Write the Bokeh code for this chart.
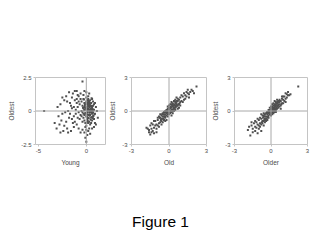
from bokeh.plotting import figure
from bokeh.layouts import row, column
from bokeh.models import FixedTicker, Span, Label
from bokeh.embed import file_html
from bokeh.resources import INLINE

# ---- data ----
young = [0.1,0.3,-0.2,0.5,0.2,-0.4,0.6,0.0,-0.1,0.4,
         0.7,-0.3,0.2,0.8,-0.5,0.1,0.5,-0.2,0.3,0.9,
         -0.6,0.0,0.4,-0.1,0.6,0.2,-0.3,0.7,-0.7,0.1,
         0.5,-0.4,0.3,0.0,0.8,-0.2,0.6,0.2,-0.1,0.4,
         1.0,-0.8,0.3,0.0,0.5,-0.5,0.7,0.1,-0.3,0.9,
         0.2,-0.6,0.4,0.0,-0.9,1.1,0.6,-0.2,0.3,0.1,
         0.8,-0.4,0.2,0.5,-0.7,0.0,0.4,-0.1,0.6,0.3,
         1.2,0.9,-0.2,0.1,0.7,-0.5,0.2,0.0,0.5,-0.3,
         0.15,0.35,-0.15,0.45,0.25,0.05,0.55,0.65,0.35,-0.05,
         0.75,0.15,0.45,-0.25,0.25,0.05,0.55,0.35,0.85,0.15,
         -0.35,0.65,0.25,0.45,0.05,0.35,-0.1,0.55,0.15,0.75,
         0.25,0.4,0.0,0.6,0.3,0.1,0.5,-0.2,0.2,0.7,
         -1.2,-1.5,-1.8,-2.1,-1.0,-2.5,-1.4,-1.7,-2.8,-1.1,
         -2.0,-3.0,-1.3,-2.3,-1.6,-0.9,-2.6,-1.9,-1.2,-3.3,
         -1.5,-2.2,-1.0,-2.7,-1.3,-1.8,-2.4,-1.1,-2.9,-1.6,
         -0.9,-2.0,-1.4,-3.1,-1.7,-2.5,-1.2,-0.8,-2.1,-1.9,
         -1.0,-2.3,-1.5,-0.8,-2.7,-1.3,
         0.0,-0.2,0.1,0.3,-0.1,0.0,0.2,-0.4,0.4,-0.1,0.6,0.8,1.0,-0.6,
         -0.4,-0.2,-0.6,0.0,-1.0,-0.3,0.3,-0.8,
         -4.4]
oldest_vs_young = [0.2,0.5,0.1,-0.1,-0.3,0.4,0.3,0.7,-0.2,0.0,
         -0.4,-0.5,0.9,0.1,0.0,-0.6,0.6,0.6,-0.8,-0.2,
         -0.3,0.3,0.8,-0.9,-0.7,0.4,0.9,0.7,0.5,-0.1,
         0.2,-0.1,0.1,-0.4,-0.6,-0.7,0.0,-0.5,0.5,-0.3,
         0.3,-0.1,0.7,1.0,-0.5,0.7,0.4,0.8,0.2,-0.9,
         1.1,0.9,-1.0,-1.1,0.3,0.0,0.9,0.3,-0.1,0.0,
         0.5,-0.8,0.6,-0.9,-0.6,0.1,0.4,0.2,-0.2,0.3,
         -0.5,0.6,-0.3,0.5,-0.1,-0.4,-0.9,0.6,0.4,-0.2,
         0.15,-0.25,0.45,0.05,0.75,-0.45,0.35,-0.15,0.55,0.25,
         -0.35,0.65,-0.65,0.85,0.15,-0.85,-0.05,0.45,-0.25,0.05,
         0.25,0.15,-0.55,0.35,0.55,-0.35,-0.15,0.95,-0.75,0.05,
         0.45,-0.05,0.25,-0.45,0.65,-0.25,0.15,0.05,0.35,-0.55,
         0.8,0.2,-0.5,1.1,-1.0,-0.2,1.3,0.6,-1.0,0.1,
         -1.3,0.3,-0.4,0.8,-1.5,1.2,-0.7,0.0,-0.8,-0.9,
         1.0,-0.1,0.6,0.5,-1.2,1.4,-1.5,-0.2,-0.4,0.4,
         -0.5,0.7,-0.9,-1.3,-0.2,1.0,1.5,-1.3,-0.8,-1.6,
         0.9,-1.1,-0.6,0.7,-1.6,0.3,
         -1.4,-1.6,-1.8,-1.3,-2.0,-2.3,-1.5,-1.4,-1.7,-1.2,-1.3,-1.2,-1.0,-1.6,
         2.2,1.5,1.3,1.4,1.5,1.2,1.3,1.1,
         0.0]

old = [0.0,0.2,-0.2,0.4,-0.4,0.1,-0.1,0.3,0.5,-0.3,
       0.6,-0.5,0.2,-0.2,0.7,-0.6,0.0,0.4,-0.1,0.3,
       0.8,-0.7,0.1,-0.4,0.5,-0.3,0.9,-0.8,0.2,0.6,
       -0.5,1.0,-0.9,0.3,0.0,-0.2,0.7,-0.6,1.1,-1.0,
       0.4,-0.1,0.8,-0.7,1.2,-1.1,0.1,0.5,-0.4,0.9,
       1.3,-1.2,0.2,-0.3,0.6,-0.8,1.4,-1.3,0.0,0.3,
       1.5,-1.4,0.7,-0.5,1.0,-0.9,0.4,-0.2,1.6,-1.5,
       0.8,-0.6,1.1,-1.0,0.5,-0.1,1.7,-1.6,0.2,-0.4,
       1.2,-1.1,0.9,-0.7,1.8,-1.3,0.6,-0.3,1.3,-1.2,
       0.1,-0.8,1.9,-1.7,0.7,-0.5,1.4,-1.4,0.3,-0.9,
       -0.05,0.15,0.35,-0.35,0.55,-0.55,0.25,0.05,-0.25,0.45,
       0.65,-0.15,0.85,-0.65,0.15,0.35,-0.45,0.75,0.05,-0.75,
       0.45,0.25,-0.05,0.55,-0.3,0.1,0.3,-0.6,0.6,-0.1,
       -1.2,-1.5,-1.8,-1.6,-1.0,-1.4,
       2.2,1.6,2.0,1.5,0.0,-0.2,0.4,0.2,-0.1,0.5]
oldest_vs_old = [0.1,0.3,-0.1,0.5,-0.3,-0.2,0.2,0.1,0.8,-0.6,
       0.4,-0.5,0.6,-0.4,0.9,-0.9,-0.3,0.2,0.4,0.7,
       1.0,-0.6,0.3,-0.8,0.3,0.0,1.2,-1.1,-0.1,0.9,
       -0.2,0.9,-0.8,0.4,0.5,-0.8,0.5,-0.4,1.3,-1.2,
       0.9,-0.5,0.6,-1.0,1.0,-0.9,0.0,1.0,-0.1,0.8,
       1.4,-1.5,0.1,-0.3,0.6,-0.5,1.3,-1.2,-0.1,-0.2,
       1.6,-1.6,1.1,-1.0,1.4,-1.3,0.0,0.1,1.5,-1.3,
       0.3,-1.2,0.8,-1.6,0.5,-0.1,1.7,-1.9,0.8,-0.5,
       1.6,-1.3,0.5,-0.3,1.9,-1.8,1.2,-0.9,1.1,-0.9,
       0.6,-1.4,1.8,-1.6,0.2,-0.7,1.7,-1.1,0.6,-0.6,
       -0.2,0.4,0.2,-0.5,0.4,-0.3,0.5,-0.1,-0.1,0.6,
       0.5,0.1,0.7,-0.8,-0.1,0.5,-0.7,0.6,0.2,-0.6,
       0.3,0.0,0.2,0.7,-0.5,0.3,0.0,-0.7,0.8,-0.3,
       -2.0,-2.1,-1.5,-1.7,-1.9,-1.9,
       2.2,1.2,1.6,1.9,0.3,-0.2,0.3,-0.4,0.0,0.1]

older = [0.0,0.2,-0.2,0.4,-0.4,0.1,-0.1,0.3,0.5,-0.3,
         0.6,-0.5,0.2,-0.2,0.7,-0.6,0.0,0.4,-0.1,0.3,
         0.8,-0.7,0.1,-0.4,0.5,-0.3,0.9,-0.8,0.2,0.6,
         -0.5,1.0,-0.9,0.3,0.0,-0.2,0.7,-0.6,1.1,-1.0,
         0.4,-0.1,0.8,-0.7,1.2,-1.1,0.1,0.5,-0.4,0.9,
         1.3,-1.2,0.2,-0.3,0.6,-0.8,1.4,-1.3,0.0,0.3,
         1.2,-1.4,0.7,-0.5,1.0,-0.9,0.4,-0.2,1.4,-1.5,
         0.8,-0.6,1.1,-1.0,0.5,-0.1,1.3,-1.6,0.2,-0.4,
         0.9,-1.1,0.6,-0.7,1.5,-1.2,0.3,-0.3,1.0,-0.8,
         0.1,-0.9,1.2,-1.3,0.7,-0.5,0.0,-1.0,0.4,-0.6,
         -0.05,0.15,0.35,-0.35,0.55,-0.55,0.25,0.05,-0.25,0.45,
         0.65,-0.15,0.85,-0.65,0.15,0.35,-0.45,0.75,0.05,-0.75,
         0.45,0.25,-0.05,0.55,-0.3,0.1,0.3,-0.6,0.6,-0.1,
         -1.8,-1.7,-1.5,-1.3,-1.1,-1.6,-1.9,-0.8,
         2.24,1.6,0.1,-0.1,0.3,0.2,-0.2]
oldest_vs_older = [0.0,0.3,-0.2,0.4,-0.5,0.1,-0.3,0.2,0.7,-0.1,
         0.5,-0.7,0.5,0.1,0.8,-0.5,-0.4,0.1,0.3,0.6,
         0.9,-0.9,0.4,-0.2,0.2,-0.6,1.1,-0.7,-0.2,0.9,
         -0.3,1.0,-1.1,0.3,0.4,-0.6,0.4,-0.9,1.3,-0.8,
         0.8,-0.1,0.5,-0.4,1.1,-1.2,-0.1,1.0,-0.9,0.7,
         1.5,-1.0,0.2,-0.3,0.6,-1.2,1.4,-1.4,0.2,-0.1,
         1.6,-1.1,1.0,-1.0,1.3,-0.6,-0.1,-0.4,1.7,-1.6,
         0.2,-0.2,0.9,-1.3,0.5,0.1,1.2,-1.3,0.7,-0.7,
         1.3,-0.7,0.3,-1.1,1.4,-1.5,0.9,-0.8,0.7,-0.3,
         0.6,-1.4,0.8,-0.9,0.6,-0.5,-0.2,-1.6,0.6,-1.3,
         0.1,-0.1,0.5,-0.2,0.8,-0.8,0.1,0.3,-0.5,0.3,
         0.9,0.0,0.6,-0.6,0.3,0.2,-0.8,0.9,-0.2,-1.0,
         0.7,0.0,-0.3,0.4,-0.1,0.2,0.5,-0.4,0.8,0.1,
         -1.4,-2.2,-1.9,-1.8,-2.0,-1.0,-1.7,-1.8,
         2.2,1.5,-0.3,0.0,0.4,0.0,-0.1]

x_names = ["Young", "Old", "Older"]
y_name = "Oldest"
x_ticks_young = [-5, 0]
y_ticks_young = [-2.5, 0, 2.5]
ticks_3 = [-3, 0, 3]
caption = "Figure 1"

FONT = "Liberation Sans"
TXT = "#4a4a4a"
BOX = "#c4c4c4"
ZERO = "#a8a8a8"
DOT = "#505050"


def panel(xs, ys, xname, xr, yr, xt, yt, width, bl, br):
    p = figure(width=width, height=170, x_range=xr, y_range=yr,
               output_backend="svg", toolbar_location=None,
               min_border_left=bl, min_border_right=br,
               min_border_top=77, min_border_bottom=26)
    p.xgrid.visible = False
    p.ygrid.visible = False
    p.outline_line_color = BOX
    p.outline_line_width = 1
    p.add_layout(Span(location=0, dimension="width", line_color=ZERO, line_width=1))
    p.add_layout(Span(location=0, dimension="height", line_color=ZERO, line_width=1))
    p.scatter(xs, ys, size=2.0, marker="square", color=DOT, line_width=0)
    p.xaxis.ticker = FixedTicker(ticks=xt)
    p.yaxis.ticker = FixedTicker(ticks=yt)
    p.xaxis.major_label_overrides = {t: ("%g" % t) for t in xt}
    p.yaxis.major_label_overrides = {t: ("%g" % t) for t in yt}
    p.xaxis.axis_label = xname
    p.yaxis.axis_label = y_name
    for ax in (p.xaxis[0], p.yaxis[0]):
        ax.axis_line_color = None
        ax.major_tick_line_color = BOX
        ax.major_tick_in = 0
        ax.major_tick_out = 2
        ax.minor_tick_line_color = None
        ax.major_label_standoff = 2
        ax.axis_label_standoff = 3
        ax.major_label_text_font = FONT
        ax.major_label_text_font_size = "6px"
        ax.major_label_text_color = TXT
        ax.axis_label_text_font = FONT
        ax.axis_label_text_font_size = "6.5px"
        ax.axis_label_text_font_style = "normal"
        ax.axis_label_text_color = TXT
    return p


f1 = panel(young, oldest_vs_young, x_names[0], (-5.3, 2.0), (-2.5, 2.5),
           x_ticks_young, y_ticks_young, 106, 35, 1)
f2 = panel(old, oldest_vs_old, x_names[1], (-3, 3), (-3, 3),
           ticks_3, ticks_3, 103, 25, 3)
f3 = panel(older, oldest_vs_older, x_names[2], (-3, 3), (-3, 3),
           ticks_3, ticks_3, 111, 23, 13)

cap = figure(width=320, height=70, x_range=(0, 1), y_range=(0, 1),
             output_backend="svg", toolbar_location=None, min_border=0)
cap.axis.visible = False
cap.grid.visible = False
cap.outline_line_color = None
cap.add_layout(Label(x=160, y=19, x_units="screen", y_units="screen", text=caption,
                     text_align="center", text_baseline="alphabetic",
                     text_font=FONT, text_font_size="15.5px", text_color="#000000"))

layout = column(row(f1, f2, f3), cap)
open("out.html", "w").write(file_html(layout, INLINE))
